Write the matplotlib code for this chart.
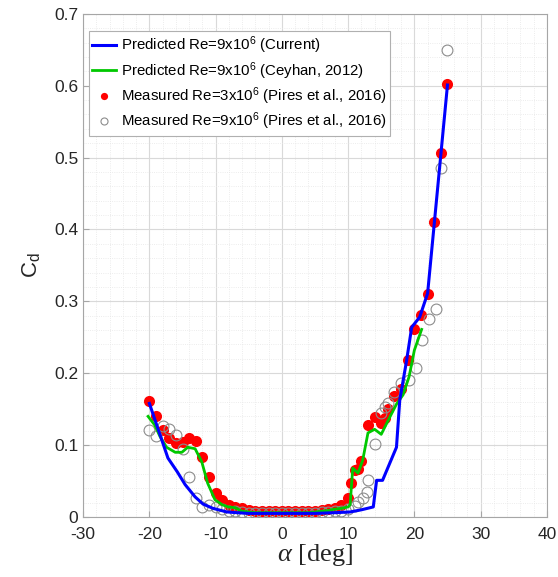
import matplotlib.pyplot as plt
from matplotlib.ticker import MultipleLocator, FuncFormatter

plt.rcParams['font.family'] = ['Liberation Sans', 'DejaVu Sans']
plt.rcParams['mathtext.fontset'] = 'custom'
plt.rcParams['mathtext.rm'] = 'Liberation Sans'
plt.rcParams['mathtext.it'] = 'Liberation Serif:italic'
plt.rcParams['mathtext.default'] = 'regular'
plt.rcParams['axes.unicode_minus'] = False

# predicted, current model (Re = 9e6)
alpha_cur = [-20, -17.2, -15.8, -14.6, -13.1, -11.9, -10.4, -8.3, -6.8, -5, 0, 5, 8, 10.3, 12, 13.8,
             14.3, 15.2, 17.3, 17.8, 18.8, 19.6, 20.8, 22, 25]
cd_cur = [0.158, 0.082, 0.063, 0.045, 0.028, 0.018, 0.012, 0.007, 0.006, 0.005, 0.005, 0.005, 0.006,
          0.007, 0.010, 0.014, 0.051, 0.051, 0.097, 0.163, 0.216, 0.264, 0.278, 0.311, 0.601]

# predicted, Ceyhan 2012 (Re = 9e6)
alpha_cey = [-20.2, -19.2, -18.4, -17.4, -16.1, -15.1, -14.2, -13.1, -12.1, -11.2, -10.1, -9, -8.1,
             -7.1, -6, -5, -4, 0, 4, 5, 6, 7, 8, 9, 10, 10.3, 10.7, 11.5, 12.2, 13, 14, 15, 16.3,
             17.3, 18.3, 19.2, 20, 21.1]
cd_cey = [0.140, 0.128, 0.112, 0.097, 0.090, 0.090, 0.097, 0.095, 0.077, 0.047, 0.024, 0.017, 0.014,
          0.013, 0.008, 0.007, 0.006, 0.006, 0.006, 0.007, 0.008, 0.009, 0.011, 0.012, 0.014, 0.017,
          0.068, 0.061, 0.079, 0.117, 0.122, 0.115, 0.139, 0.157, 0.170, 0.195, 0.232, 0.261]

# measured, Pires et al. 2016 (Re = 3e6)
alpha_m3 = [-20, -19, -18, -17, -16, -15, -14, -13, -12, -11, -10, -9, -8, -7, -6, -5, -4, -3, -2,
            -1, 0, 1, 2, 3, 4, 5, 6, 7, 8, 9, 10, 10.5, 11, 11.5, 12, 13, 14, 15, 15.5, 16, 17, 18,
            19, 20, 21, 22, 23, 24, 25]
cd_m3 = [0.162, 0.140, 0.121, 0.110, 0.103, 0.104, 0.110, 0.106, 0.083, 0.055, 0.033, 0.024, 0.017,
         0.014, 0.012, 0.010, 0.009, 0.008, 0.008, 0.008, 0.008, 0.008, 0.008, 0.008, 0.008, 0.009,
         0.010, 0.011, 0.013, 0.016, 0.027, 0.047, 0.066, 0.067, 0.078, 0.128, 0.139, 0.131, 0.138,
         0.150, 0.168, 0.178, 0.218, 0.262, 0.281, 0.310, 0.410, 0.507, 0.602]

# measured, Pires et al. 2016 (Re = 9e6)
alpha_m9 = [-20, -19, -18, -17, -16, -15, -14, -13, -12, -11, -10, -9, -8, -7, -6, -5, -4, -3, -2,
            -1, 0, 1, 2, 3, 4, 5, 6, 7, 8, 9, 10, 11, 11.5, 12.2, 12.8, 13, 14, 15, 15.5, 16, 17, 18,
            19.2, 20.2, 21.1, 22.2, 23.2, 24, 25]
cd_m9 = [0.121, 0.112, 0.127, 0.122, 0.114, 0.095, 0.056, 0.026, 0.014, 0.017, 0.014, 0.011, 0.009,
         0.008, 0.007, 0.006, 0.006, 0.006, 0.006, 0.006, 0.006, 0.006, 0.006, 0.006, 0.006, 0.006,
         0.007, 0.007, 0.008, 0.009, 0.011, 0.015, 0.021, 0.026, 0.035, 0.051, 0.101, 0.144, 0.153,
         0.158, 0.174, 0.186, 0.190, 0.207, 0.246, 0.275, 0.290, 0.485, 0.650]

fig = plt.figure(figsize=(5.58, 5.77), dpi=100)
ax = fig.add_axes([0.149, 0.104, 0.831, 0.872])

ax.plot(alpha_m3, cd_m3, 'o', color='#ff0000', markersize=8, markeredgewidth=0,
        label='Measured Re=3x10$^6$ (Pires et al., 2016)', zorder=3)
ax.plot(alpha_m9, cd_m9, 'o', markerfacecolor='none', markeredgecolor='#8c8c8c', markersize=7.8,
        markeredgewidth=0.8, label='Measured Re=9x10$^6$ (Pires et al., 2016)', zorder=4)
ax.plot(alpha_cey, cd_cey, color='#00c800', linewidth=2,
        label='Predicted Re=9x10$^6$ (Ceyhan, 2012)', zorder=5)
ax.plot(alpha_cur, cd_cur, color='#0000ff', linewidth=2.2,
        label='Predicted Re=9x10$^6$ (Current)', zorder=6)

ax.set_xlim(-30, 40)
ax.set_ylim(0, 0.7)
ax.xaxis.set_major_locator(MultipleLocator(10))
ax.xaxis.set_minor_locator(MultipleLocator(2))
ax.yaxis.set_major_locator(MultipleLocator(0.1))
ax.yaxis.set_minor_locator(MultipleLocator(0.02))
ax.yaxis.set_major_formatter(FuncFormatter(lambda v, p: '0' if abs(v) < 1e-9 else f'{v:.1f}'))

ax.grid(True, which='major', color='#d9d9d9', linewidth=0.8)
ax.grid(True, which='minor', color='#e6e6e6', linewidth=0.6, linestyle=':')
ax.set_axisbelow(True)
for s in ax.spines.values():
    s.set_color('#a6a6a6')
ax.tick_params(which='both', direction='in', colors='#262626', labelsize=12.5)
ax.tick_params(which='major', length=4, color='#a6a6a6')
ax.tick_params(axis='x', pad=7)
ax.tick_params(which='minor', length=0)

ax.set_xlabel(r'$\mathit{\alpha}$ [deg]', fontsize=19, family=['Liberation Serif', 'DejaVu Serif'],
              color='#262626', labelpad=0)
ax.set_ylabel('C$_d$', fontsize=16, color='#262626', labelpad=8)

handles, labels = ax.get_legend_handles_labels()
order = [3, 2, 0, 1]
leg = ax.legend([handles[i] for i in order], [labels[i] for i in order], loc='upper left',
                bbox_to_anchor=(0.012, 0.966), fontsize=10.8, fancybox=False, framealpha=1,
                edgecolor='#b0b0b0', handlelength=1.6, handletextpad=0.3, borderpad=0.25,
                labelspacing=0.25, borderaxespad=0, markerscale=0.65)
leg.get_frame().set_linewidth(0.8)

plt.savefig('out.png', dpi=100)
plt.close()
